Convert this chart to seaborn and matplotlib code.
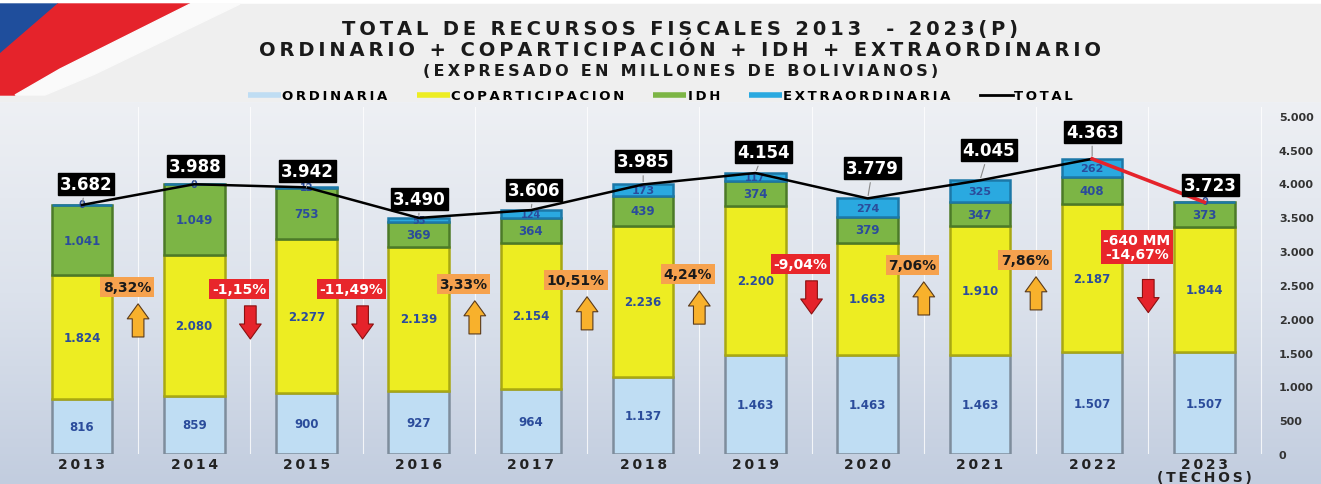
import matplotlib
matplotlib.use("Agg")
import matplotlib.pyplot as plt
import seaborn as sns
import numpy as np
import pandas as pd
from matplotlib.patches import Polygon, Rectangle
from matplotlib.lines import Line2D
from matplotlib.colors import LinearSegmentedColormap

# Data (millones de Bs)
years = ["2013", "2014", "2015", "2016", "2017", "2018", "2019", "2020", "2021", "2022", "2023"]
ordinaria = [816, 859, 900, 927, 964, 1137, 1463, 1463, 1463, 1507, 1507]
coparticipacion = [1824, 2080, 2277, 2139, 2154, 2236, 2200, 1663, 1910, 2187, 1844]
idh = [1041, 1049, 753, 369, 364, 439, 374, 379, 347, 408, 373]
extraordinaria = [0, 0, 12, 55, 124, 173, 117, 274, 325, 262, 0]
total = [3682, 3988, 3942, 3490, 3606, 3985, 4154, 3779, 4045, 4363, 3723]
variacion = ["8,32%", "-1,15%", "-11,49%", "3,33%", "10,51%", "4,24%",
             "-9,04%", "7,06%", "7,86%", "-640 MM\n-14,67%"]
legend_labels = ["ORDINARIA", "COPARTICIPACION", "IDH", "EXTRAORDINARIA", "TOTAL"]

# layout helpers (not data)
var_y = [2470, 2440, 2440, 2515, 2575, 2660, 2810, 2795, 2870, 3060]
total_off = [(4, 21), (1, 18), (1, 16), (1, 19), (3, 20), (0, 23),
             (8, 21), (5, 30), (9, 30), (0, 27), (6, 17)]

TS = "\u2009"  # thin space used as letter spacing


def spaced(s, sep=TS):
    return "\n".join(sep.join(line) for line in s.split("\n"))


def fmt(v):
    return f"{v:,}".replace(",", ".")


df = pd.DataFrame({"year": years, "ord": ordinaria, "cop": coparticipacion,
                   "idh": idh, "ext": extraordinaria, "total": total})

fig = plt.figure(figsize=(13.21, 4.85), dpi=100)
fig.patch.set_facecolor("white")

# gradient background for chart area
bg = fig.add_axes([0, 0, 1, 1 - 103 / 485], zorder=-5)
cmap = LinearSegmentedColormap.from_list("bg", ["#C2CDDF", "#DCE2EC", "#EEF0F4"])
bg.imshow(np.linspace(0, 1, 256).reshape(-1, 1), aspect="auto", cmap=cmap, origin="lower",
          extent=[0, 1, 0, 1])
bg.axis("off")

# header
fig.add_artist(Rectangle((0, 1 - 103 / 485), 1, 98 / 485, transform=fig.transFigure,
                         color="#EFEFEF", zorder=-10))


def px(pts):
    return [(x / 1321, 1 - y / 485) for x, y in pts]


fig.add_artist(Polygon(px([(0, 5), (58, 5), (0, 55)]), transform=fig.transFigure,
                       color="#1F4E9C", zorder=-9))
fig.add_artist(Polygon(px([(58, 5), (190, 5), (60, 70), (15, 96), (0, 96), (0, 55)]),
                       transform=fig.transFigure, color="#E5232B", zorder=-9))
fig.add_artist(Polygon(px([(190, 5), (240, 5), (95, 75), (45, 96), (15, 96), (60, 70)]),
                       transform=fig.transFigure, color="#FAFAFA", zorder=-9))

fig.text(0.515, 1 - 29 / 485, spaced("TOTAL DE RECURSOS FISCALES 2013  - 2023(P)"),
         ha="center", va="center", fontsize=14, fontweight="bold", color="#1A1A1A")
fig.text(0.515, 1 - 50 / 485, spaced("ORDINARIO + COPARTICIPACIÓN + IDH + EXTRAORDINARIO"),
         ha="center", va="center", fontsize=14, fontweight="bold", color="#1A1A1A")
fig.text(0.515, 1 - 71 / 485, spaced("(EXPRESADO EN MILLONES DE BOLIVIANOS)"),
         ha="center", va="center", fontsize=11.5, fontweight="bold", color="#1A1A1A")

ax = fig.add_axes([30 / 1321, 1 - 455 / 485, 1235 / 1321, 347 / 485])
ax.set_facecolor("none")

colors = {"ord": "#BFDDF3", "cop": "#EDED22", "idh": "#7CB545", "ext": "#2AA9E0"}
edges = {"ord": "#7E8D9C", "cop": "#A9A812", "idh": "#4C7A28", "ext": "#1C78A8"}

bottom = [0] * len(years)
for key in ["ord", "cop", "idh", "ext"]:
    sns.barplot(data=df, x="year", y=key, color=colors[key], saturation=1,
                width=0.54, bottom=bottom, edgecolor=edges[key], linewidth=1.8,
                ax=ax, zorder=3)
    for i, v in enumerate(df[key]):
        if key == "ext":
            ax.text(i, bottom[i] + max(v, 20) / 2, fmt(v), ha="center", va="center",
                    fontsize=7 if v < 150 else 8, fontweight="bold", color="#2B4C9B", zorder=5)
        else:
            ax.text(i, bottom[i] + v / 2, fmt(v), ha="center", va="center", fontsize=8.5,
                    fontweight="bold", color="#2B4C9B", zorder=5)
    bottom = [b + v for b, v in zip(bottom, df[key])]

# total line
idx = list(range(len(years)))
sns.lineplot(x=idx[:-1], y=total[:-1], color="black", linewidth=1.8, ax=ax, zorder=6)
sns.lineplot(x=idx[-2:], y=total[-2:], color="#E5232B", linewidth=2.6, ax=ax, zorder=6)

for i, t in enumerate(total):
    ax.annotate(fmt(t), xy=(i, t), xytext=total_off[i], textcoords="offset pixels",
                ha="center", va="center", fontsize=12, fontweight="bold", color="white",
                bbox=dict(boxstyle="square,pad=0.12", fc="black", ec="black"),
                arrowprops=dict(arrowstyle="-", color="#8A8A8A", lw=0.8), zorder=7)

# variation boxes and arrows
for i, (lab, yv) in enumerate(zip(variacion, var_y)):
    xm = i + 0.5
    down = lab.startswith("-")
    box_fc = "#E8262B" if down else "#F6A24E"
    txt_c = "white" if down else "#1A1A1A"
    ax.text(xm - 0.1, yv, lab, ha="center", va="center", fontsize=10,
            fontweight="bold", color=txt_c, linespacing=1.0, zorder=7,
            bbox=dict(boxstyle="square,pad=0.2", fc=box_fc, ec="none"))
    top = yv - (480 if "\n" in lab else 250)
    bot = top - 490
    if down:
        start, end, fc = (xm, top), (xm, bot), "#E5232B"
    else:
        start, end, fc = (xm, bot), (xm, top), "#F8B12C"
    ax.annotate("", xy=end, xytext=start, zorder=7,
                arrowprops=dict(arrowstyle="simple,head_width=1.3,head_length=0.9,tail_width=0.7",
                                mutation_scale=12, fc=fc, ec="#5A3A1A" if not down else "#8A1010",
                                lw=0.8, shrinkA=0, shrinkB=0))

ax.set_xlim(-0.463, 10.54)
ax.set_ylim(0, 5130)
ax.set_xticks(idx)
ax.set_xticklabels([spaced(y) for y in years[:-1]] + [spaced("2023\n(TECHOS)")],
                   fontsize=10, fontweight="bold", color="#222222", linespacing=0.95)
ax.set_yticks(range(0, 5001, 500))
ax.set_yticklabels([fmt(v) for v in range(0, 5001, 500)], fontsize=8, fontweight="bold",
                   color="#333333")
ax.yaxis.tick_right()
ax.tick_params(length=0, pad=2)
ax.tick_params(axis="y", pad=10)
ax.set_xlabel("")
ax.set_ylabel("")
for s in ax.spines.values():
    s.set_visible(False)
for g in range(-1, len(years)):
    ax.axvline(g + 0.5, color="white", lw=0.8, alpha=0.8, zorder=1)

handles = [Line2D([0], [0], color=colors[k], lw=4, solid_capstyle="butt")
           for k in ["ord", "cop", "idh", "ext"]]
handles.append(Line2D([0], [0], color="black", lw=2))
fig.legend(handles, [spaced(l) for l in legend_labels],
           loc="center", bbox_to_anchor=(0.5, 1 - 97 / 485), ncol=5, frameon=False,
           prop={"size": 9.5, "weight": "bold"}, handlelength=2.5, handletextpad=0.1,
           columnspacing=2.2)

fig.savefig("out.png", dpi=100)
